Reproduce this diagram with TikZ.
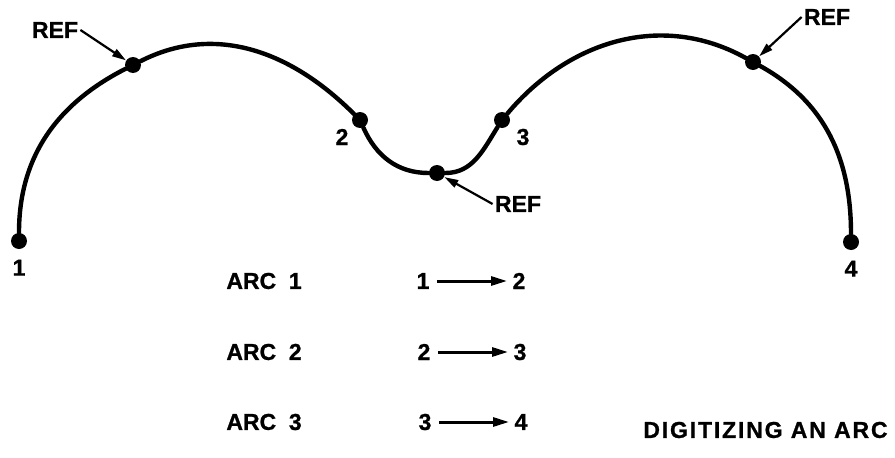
\documentclass[tikz,border=0pt]{standalone}
\usepackage{fontspec}
\setmainfont{Liberation Sans}[BoldFeatures={FakeBold=1}]
\usepackage{tikz}
\usetikzlibrary{arrows.meta,positioning}
\tikzset{
  digdot/.style={circle,fill=black,inner sep=0pt,minimum size=8pt},
  digcurve/.style={line width=2.2pt,line cap=round},
  digtext/.style={font=\fontsize{11.5}{13}\selectfont\bfseries,inner sep=1pt},
  digptr/.style={-{Triangle[length=7pt,width=4pt]},line width=1.1pt},
  digstep/.style={-{Triangle[length=8pt,width=4.4pt]},line width=1.5pt,
                  shorten <=2.5pt,shorten >=1.5pt}
}

\begin{document}
\begin{tikzpicture}[x=0.5pt,y=0.5pt]
  \useasboundingbox (0,0) rectangle (895,457);

  % points on the curve
  \node[digdot] (p1) at (19,216) {};
  \node[digdot] (ref1) at (133,392) {};
  \node[digdot] (p2) at (360,337) {};
  \node[digdot] (ref2) at (437,284) {};
  \node[digdot] (p3) at (502,337) {};
  \node[digdot] (ref3) at (753,395) {};
  \node[digdot] (p4) at (851,215) {};

  \draw[digcurve] (p1) to[out=90,in=207] (ref1)
                       to[out=27,in=135] (p2)
                       to[out=-66,in=180] (ref2)
                       to[out=0,in=238] (p3)
                       to[out=50,in=151] (ref3)
                       to[out=-29,in=90] (p4);

  \node[digtext,below=4pt of p1] (n1) {1};
  \node[digtext,below=4pt of p4] (n4) {4};
  \node[digtext] (n2) at (342,320) {2};
  \node[digtext] (n3) at (523,320) {3};

  % reference marks
  \node[digtext] (refl) at (55,427) {REF};
  \node[digtext] (refr) at (827,440) {REF};
  \node[digtext] (refb) at (518,253) {REF};
  \draw[digptr] (refl.east) -- (ref1);
  \draw[digptr] (refr.west) -- (ref3);
  \draw[digptr] (refb.west) -- (ref2);

  % arc table
  \node[digtext,anchor=west] (arc1) at (224,176) {ARC\hspace{0.55em}1};
  \node[digtext,anchor=west] (arc2) at (224,105) {ARC\hspace{0.55em}2};
  \node[digtext,anchor=west] (arc3) at (224,35) {ARC\hspace{0.55em}3};
  \node[digtext] (from1) at (423,176) {1};
  \node[digtext] (to1) at (519,176) {2};
  \node[digtext] (from2) at (424,105) {2};
  \node[digtext] (to2) at (520,105) {3};
  \node[digtext] (from3) at (425,35) {3};
  \node[digtext] (to3) at (521,35) {4};
  \draw[digstep] (from1) -- (to1);
  \draw[digstep] (from2) -- (to2);
  \draw[digstep] (from3) -- (to3);

  \node[digtext,anchor=east] (title) at (890,27)
    {\addfontfeature{LetterSpace=8}DIGITIZING AN ARC};
\end{tikzpicture}
\end{document}
